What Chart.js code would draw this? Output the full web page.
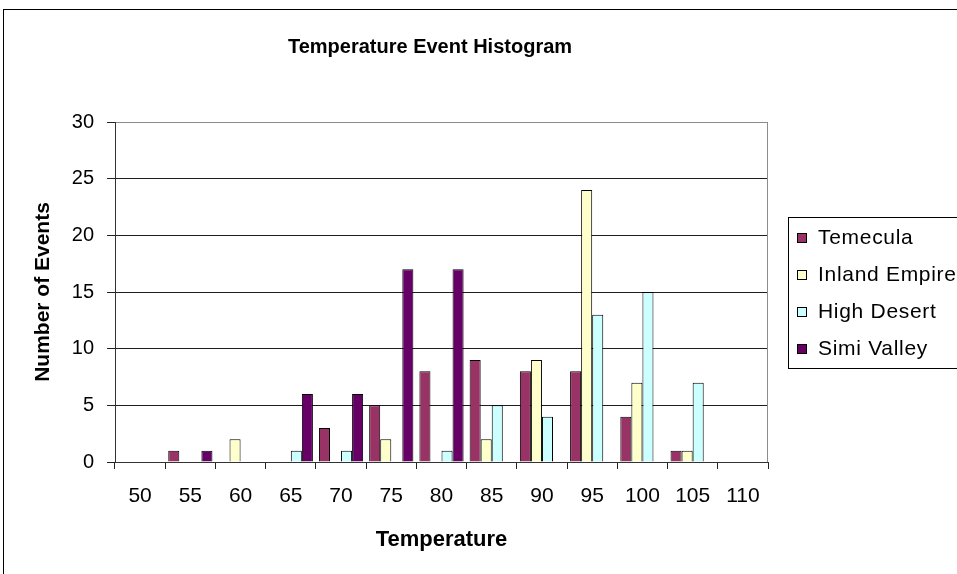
<!DOCTYPE html>
<html>
<head>
<meta charset="utf-8">
<title>Temperature Event Histogram</title>
<script src="https://cdn.jsdelivr.net/npm/chart.js@4.4.0/dist/chart.umd.min.js"></script>
<style>
  html, body { margin: 0; padding: 0; background: #fff; }
  #wrap { width: 957px; height: 574px; position: relative; }
</style>
</head>
<body>
<div id="wrap"><canvas id="histogram"></canvas></div>
<script>
// temperature bins (deg F) and event counts per region
const temperatures = ['50', '55', '60', '65', '70', '75', '80', '85', '90', '95', '100', '105', '110'];
const temecula     = [0, 1, 0, 0, 3, 5, 8, 9, 8, 8, 4, 1, 0];
const inlandEmpire = [0, 0, 2, 0, 0, 2, 0, 2, 9, 24, 7, 1, 0];
const highDesert   = [0, 0, 0, 1, 1, 0, 1, 5, 4, 13, 15, 7, 0];
const simiValley   = [0, 1, 0, 6, 6, 17, 17, 0, 0, 0, 0, 0, 0];
const countTicks   = [0, 5, 10, 15, 20, 25, 30];

const FONT = "'Liberation Sans', Arial, sans-serif";

// frame, title, plot border and legend box drawn around the chart
const sheetDecor = {
  id: 'sheetDecor',
  beforeDraw(chart) {
    const ctx = chart.ctx;
    ctx.save();
    ctx.fillStyle = '#fff';
    ctx.fillRect(0, 0, chart.width, chart.height);
    ctx.strokeStyle = '#000';
    ctx.lineWidth = 1;
    ctx.strokeRect(3.5, 9.5, chart.width + 20, chart.height + 20);
    ctx.restore();
  },
  beforeDatasetsDraw(chart) {
    const { ctx, chartArea } = chart;
    ctx.save();
    ctx.strokeStyle = '#8c8c8c';
    ctx.lineWidth = 1;
    ctx.beginPath();
    ctx.moveTo(Math.round(chartArea.right) - 0.5, chartArea.top);
    ctx.lineTo(Math.round(chartArea.right) - 0.5, chartArea.bottom);
    ctx.stroke();
    ctx.restore();
  },
  afterDraw(chart) {
    const ctx = chart.ctx;
    ctx.save();
    ctx.fillStyle = '#000';
    ctx.font = 'bold 20px ' + FONT;
    ctx.textAlign = 'center';
    ctx.textBaseline = 'middle';
    ctx.fillText('Temperature Event Histogram', 430, 47);

    // legend
    ctx.strokeStyle = '#000';
    ctx.lineWidth = 1;
    ctx.strokeRect(788.5, 217.5, 200, 151);
    ctx.font = '21px ' + FONT;
    ctx.letterSpacing = '0.7px';
    ctx.textAlign = 'left';
    chart.data.datasets.forEach((ds, i) => {
      const y = 238 + i * 37;
      ctx.fillStyle = ds.backgroundColor;
      ctx.fillRect(797, y - 5, 10, 10);
      ctx.strokeRect(797.5, y - 4.5, 9, 9);
      ctx.fillStyle = '#000';
      ctx.fillText(ds.label, 818, y);
    });
    ctx.restore();
  }
};

const bar = (label, data, color) => ({
  label: label,
  data: data,
  backgroundColor: color,
  borderColor: '#000',
  borderWidth: 1,
  categoryPercentage: 0.88,
  barPercentage: 1.0
});

new Chart(document.getElementById('histogram'), {
  type: 'bar',
  data: {
    labels: temperatures,
    datasets: [
      bar('Temecula', temecula, '#993366'),
      bar('Inland Empire', inlandEmpire, '#FFFFCC'),
      bar('High Desert', highDesert, '#CCFFFF'),
      bar('Simi Valley', simiValley, '#660066')
    ]
  },
  options: {
    responsive: true,
    maintainAspectRatio: false,
    animation: false,
    layout: { padding: { left: 0, top: 122, right: 189, bottom: 0 } },
    plugins: {
      legend: { display: false },
      title: { display: false },
      tooltip: { enabled: false }
    },
    scales: {
      x: {
        afterFit: s => { s.height = 112; },
        grid: {
          display: true,
          offset: true,
          drawOnChartArea: false,
          drawTicks: true,
          tickLength: 7,
          color: '#222'
        },
        border: { color: '#333', width: 1 },
        ticks: {
          color: '#000',
          font: { family: FONT, size: 21 },
          padding: 15,
          autoSkip: false,
          maxRotation: 0
        },
        title: {
          display: true,
          text: 'Temperature',
          color: '#000',
          font: { family: FONT, size: 22, weight: 'bold' },
          padding: { top: 0, bottom: 21 }
        }
      },
      y: {
        min: countTicks[0],
        max: countTicks[countTicks.length - 1],
        afterFit: s => { s.width = 115; },
        afterBuildTicks: s => { s.ticks = countTicks.map(v => ({ value: v })); },
        grid: {
          color: c => (c.tick && c.tick.value === 30 ? '#8c8c8c' : '#1e1e1e'),
          tickColor: '#222',
          tickLength: 8
        },
        border: { color: '#333', width: 1 },
        ticks: {
          color: '#000',
          font: { family: FONT, size: 20 },
          padding: 13
        },
        title: {
          display: true,
          text: 'Number of Events',
          color: '#000',
          font: { family: FONT, size: 21, weight: 'bold' },
          padding: { top: 31, bottom: 0 }
        }
      }
    }
  },
  plugins: [sheetDecor]
});
</script>
</body>
</html>
